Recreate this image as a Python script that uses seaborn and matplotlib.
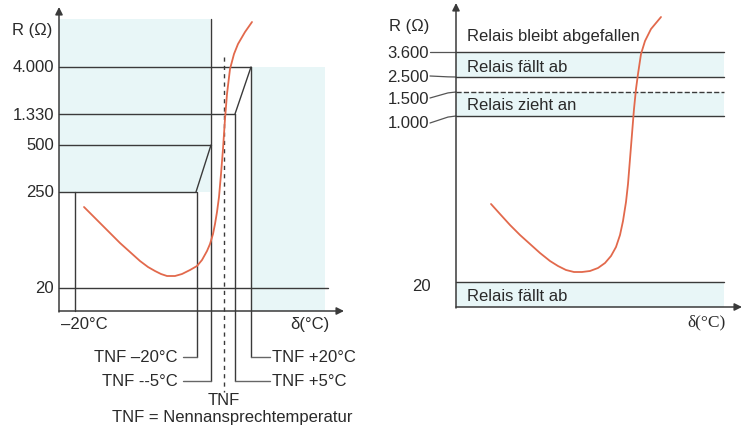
import pandas as pd
import matplotlib.pyplot as plt
import seaborn as sns

sns.set_style('white')
plt.rcParams['font.family'] = ['Liberation Sans', 'DejaVu Sans']

# Schema-Koordinaten: Zeichenflaeche 745 x 427, y nach unten
# linkes Diagramm: Widerstandsstufen
left_labels = ['4.000', '1.330', '500', '250', '20']
left_level_y = [68, 115, 146, 193, 289]
left_level_end = [251, 235, 211, 196, 328]

# Kennlinie links (Temperatur, Widerstand)
left_curve_x = [84, 92, 100, 110, 120, 130, 140, 148, 155, 161, 167, 175, 182, 190, 197,
                202, 207, 210, 213, 215, 217, 219, 221, 223, 225, 227, 230, 234, 238, 245, 252]
left_curve_y = [208, 216, 224, 234, 244, 253, 262, 268, 272, 275, 277, 277, 275, 271, 267,
                261, 252, 245, 235, 225, 213, 198, 175, 150, 120, 95, 70, 55, 45, 33, 23]

# TNF-Markierungen
tnf_names = ['TNF –20°C', 'TNF --5°C', 'TNF +5°C', 'TNF +20°C']
tnf_x = [197, 211, 235, 251]
tnf_top = [193, 20, 115, 68]
tnf_bottom = [358, 382, 382, 358]
tnf_side = ['left', 'left', 'right', 'right']

# rechtes Diagramm: Schaltschwellen
right_labels = ['3.600', '2.500', '1.500', '1.000']
right_label_y = [53, 77, 99, 124]
right_level_y = [53, 78, 93, 117]
right_level_style = ['-', '-', '--', '-']
right_bands = [(53, 78), (93, 117), (283, 308)]
right_texts = ['Relais bleibt abgefallen', 'Relais fällt ab', 'Relais zieht an', 'Relais fällt ab']
right_text_y = [37, 67, 106, 297]

right_curve_x = [491, 500, 510, 520, 530, 540, 550, 558, 566, 574, 582, 590, 598, 605, 611,
                 616, 620, 623, 626, 628, 630, 632, 634, 636, 638, 641, 645, 651, 661]
right_curve_y = [205, 215, 226, 236, 245, 254, 262, 267, 271, 273, 273, 272, 269, 264, 257,
                 248, 236, 222, 203, 185, 160, 135, 110, 90, 75, 55, 42, 30, 18]

shade = '#e8f6f7'
ink = '#3a3a3a'
txt = '#2a2a2a'
red = '#e2694c'
fs = 12

fig = plt.figure(figsize=(7.45, 4.27), dpi=100)
ax = fig.add_axes([0, 0, 1, 1])
ax.set_xlim(0, 745)
ax.set_ylim(427, 0)
ax.set_axis_off()


def arrow(x0, y0, x1, y1):
    ax.annotate('', xy=(x1, y1), xytext=(x0, y0),
                arrowprops=dict(arrowstyle='-|>', color=ink, lw=1.1,
                                mutation_scale=11, shrinkA=0, shrinkB=0))


# ---------- linkes Diagramm ----------
ax.fill_between([59, 210], 20, 193, color=shade, lw=0, zorder=0)
ax.fill_between([251, 325], 68, 312, color=shade, lw=0, zorder=0)

for lab, y, xe in zip(left_labels, left_level_y, left_level_end):
    ax.plot([59, xe], [y, y], color=ink, lw=1)
    ax.text(54, y, lab, ha='right', va='center', fontsize=fs, color=txt)

# Schraege Uebergaenge
ax.plot([196, 211], [193, 146], color=ink, lw=1)
ax.plot([235, 251], [115, 68], color=ink, lw=1)

# -20 °C Linie
ax.plot([75, 75], [193, 312], color=ink, lw=1)

for name, x, yt, yb, side in zip(tnf_names, tnf_x, tnf_top, tnf_bottom, tnf_side):
    ax.plot([x, x], [yt, yb], color=ink, lw=1)
    if side == 'left':
        ax.plot([183, x], [yb, yb], color='#666', lw=1)
        ax.text(178, yb, name, ha='right', va='center', fontsize=fs, color=txt)
    else:
        ax.plot([x, 270], [yb, yb], color='#666', lw=1)
        ax.text(272, yb, name, ha='left', va='center', fontsize=fs, color=txt)

ax.plot([224, 224], [58, 393], color=ink, lw=1, ls=(0, (3, 3)))

arrow(59, 313, 59, 8)
arrow(59, 312, 344, 312)

sns.lineplot(x=left_curve_x, y=left_curve_y, sort=False, color=red, lw=1.3, ax=ax, zorder=5)

ax.text(32, 30, 'R (Ω)', ha='center', va='center', fontsize=fs, color=txt)
ax.text(84, 325, '–20°C', ha='center', va='center', fontsize=fs, color=txt)
ax.text(310, 325, 'δ(°C)', ha='center', va='center', fontsize=fs, color=txt)
ax.text(224, 401, 'TNF', ha='center', va='center', fontsize=fs, color=txt)
ax.text(232, 418, 'TNF = Nennansprechtemperatur', ha='center', va='center',
        fontsize=fs, color=txt)

# ---------- rechtes Diagramm ----------
for y0, y1 in right_bands:
    ax.fill_between([456, 724], y0, y1, color=shade, lw=0, zorder=0)

for lab, ly, y, st in zip(right_labels, right_label_y, right_level_y, right_level_style):
    ax.plot([456, 724], [y, y], color=ink, lw=1, ls=st)
    ax.plot([430, 448, 456], [ly, y + (ly - y) * 0.15, y], color='#555', lw=0.9)
    ax.text(429, ly, lab, ha='right', va='center', fontsize=fs, color=txt)

ax.plot([456, 724], [283, 283], color=ink, lw=1)
ax.text(421, 287, '20', ha='center', va='center', fontsize=fs, color=txt)

for t, y in zip(right_texts, right_text_y):
    ax.text(467, y, t, ha='left', va='center', fontsize=fs, color=txt)

arrow(456, 309, 456, 4)
arrow(456, 308, 742, 308)

sns.lineplot(x=right_curve_x, y=right_curve_y, sort=False, color=red, lw=1.3, ax=ax, zorder=5)

ax.text(409, 27, 'R (Ω)', ha='center', va='center', fontsize=fs, color=txt)
ax.text(707, 322, 'δ(°C)', ha='center', va='center', fontsize=fs + 0.5, color=txt,
        family=['Liberation Serif', 'DejaVu Serif'])

fig.savefig('out.png', dpi=100)
